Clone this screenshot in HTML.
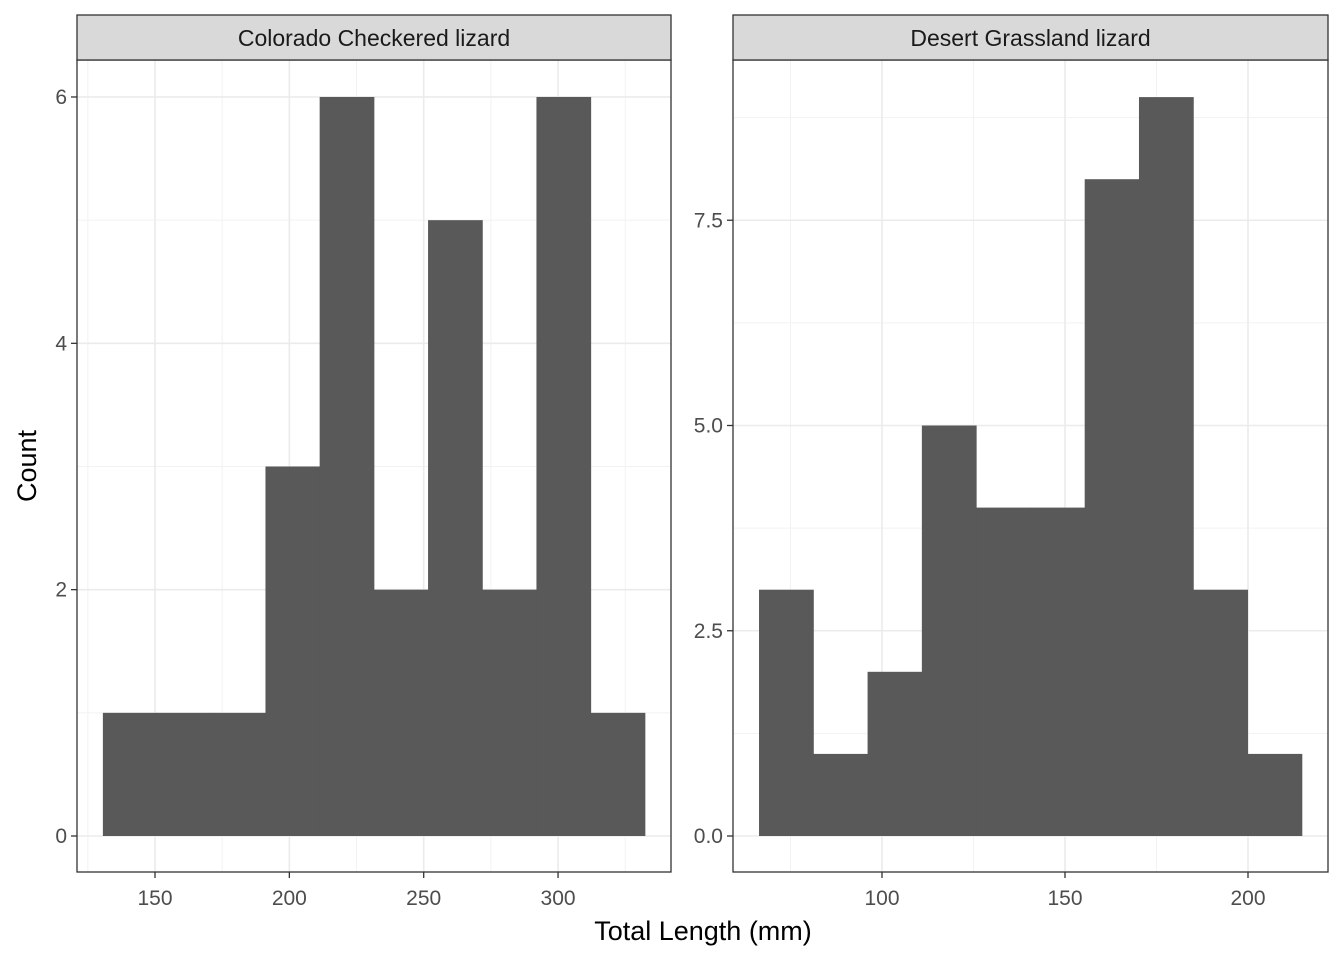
<!DOCTYPE html>
<html><head><meta charset="utf-8"><style>
body{margin:0;background:#fff}
svg{display:block;font-family:"Liberation Sans",Arial,sans-serif}
</style></head><body>
<svg id="chart" width="1344" height="960"></svg>
<script>
const leftTitle = "Colorado Checkered lizard";
const leftBinStart = 130.6;
const leftBinWidth = 20.17;
const leftCounts = [1,1,1,3,6,2,5,2,6,1];
const leftXTicks = [150,200,250,300];
const leftXMinor = [125,175,225,275,325];
const leftYTicks = [0,2,4,6];
const leftYMinor = [1,3,5];

const rightTitle = "Desert Grassland lizard";
const rightBinStart = 66.4;
const rightBinWidth = 14.83;
const rightCounts = [3,1,2,5,4,4,8,9,3,1];
const rightXTicks = [100,150,200];
const rightXMinor = [75,125,175];
const rightYTicks = [0,2.5,5,7.5];
const rightYTickLabels = ["0.0","2.5","5.0","7.5"];
const rightYMinor = [1.25,3.75,6.25,8.75];

const NS="http://www.w3.org/2000/svg";
const svg=document.getElementById('chart');
function mk(tag,attrs,parent,text){const e=document.createElementNS(NS,tag);for(const k in attrs)e.setAttribute(k,attrs[k]);if(text!==undefined)e.textContent=text;(parent||svg).appendChild(e);return e;}

function panel(cfg){
  const g=mk('g',{});
  
  
  const L=cfg.x0,R=cfg.x1,T=60,B=872;
  const sx=v=>cfg.px0+(v-cfg.v0)*cfg.kx;
  const sy=v=>836-v*cfg.ky;
  mk('rect',{x:L,y:T,width:R-L,height:B-T,fill:'#fff'},g);
  cfg.xMinor.forEach(v=>{const l=mk('line',{x1:sx(v),x2:sx(v),y1:T,y2:B,stroke:'#f2f2f2','stroke-width':1},g);});
  cfg.yMinor.forEach(v=>{const l=mk('line',{x1:L,x2:R,y1:sy(v),y2:sy(v),stroke:'#f2f2f2','stroke-width':1},g);});
  cfg.xTicks.forEach(v=>{const l=mk('line',{x1:sx(v),x2:sx(v),y1:T,y2:B,stroke:'#ebebeb','stroke-width':1.6},g);});
  cfg.yTicks.forEach(v=>{const l=mk('line',{x1:L,x2:R,y1:sy(v),y2:sy(v),stroke:'#ebebeb','stroke-width':1.6},g);});
  cfg.counts.forEach((c,i)=>{
    const a=cfg.binStart+i*cfg.binWidth,b=a+cfg.binWidth;
    const r=mk('rect',{x:sx(a),y:sy(c),width:sx(b)-sx(a)+0.5,height:sy(0)-sy(c),fill:'#595959'},g);
    
    
  });
  mk('rect',{x:L,y:T,width:R-L,height:B-T,fill:'none',stroke:'#333','stroke-width':1.3},g);
  const s=mk('rect',{x:L,y:15,width:R-L,height:45,fill:'#d9d9d9',stroke:'#333','stroke-width':1.3},g);
  
  
  const st=mk('text',{x:(L+R)/2,y:46,'text-anchor':'middle','font-size':23,fill:'#1a1a1a'},g,cfg.title);
  
  
  cfg.xTicks.forEach(v=>{
    mk('line',{x1:sx(v),x2:sx(v),y1:B,y2:B+6,stroke:'#333','stroke-width':1.3},g);
    const t=mk('text',{x:sx(v),y:905,'text-anchor':'middle','font-size':21,fill:'#4d4d4d'},g,String(v));
    
    
  });
  cfg.yTicks.forEach((v,i)=>{
    mk('line',{x1:L-6,x2:L,y1:sy(v),y2:sy(v),stroke:'#333','stroke-width':1.3},g);
    const t=mk('text',{x:L-10,y:sy(v)+7,'text-anchor':'end','font-size':21,fill:'#4d4d4d'},g,cfg.yLabels?cfg.yLabels[i]:String(v));
    
    
  });
}
panel({name:'left-panel',x0:77,x1:671,px0:155,v0:150,kx:2.687,ky:123.17,title:leftTitle,counts:leftCounts,binStart:leftBinStart,binWidth:leftBinWidth,xTicks:leftXTicks,xMinor:leftXMinor,yTicks:leftYTicks,yMinor:leftYMinor});
panel({name:'right-panel',x0:733,x1:1328,px0:882,v0:100,kx:3.66,ky:82.1,title:rightTitle,counts:rightCounts,binStart:rightBinStart,binWidth:rightBinWidth,xTicks:rightXTicks,xMinor:rightXMinor,yTicks:rightYTicks,yLabels:rightYTickLabels,yMinor:rightYMinor});
const xt=mk('text',{x:703,y:940,'text-anchor':'middle','font-size':27,fill:'#000'},svg,'Total Length (mm)');


const yt=mk('text',{x:36,y:466,'text-anchor':'middle','font-size':27,fill:'#000',transform:'rotate(-90 36 466)'},svg,'Count');


</script>
</body></html>
